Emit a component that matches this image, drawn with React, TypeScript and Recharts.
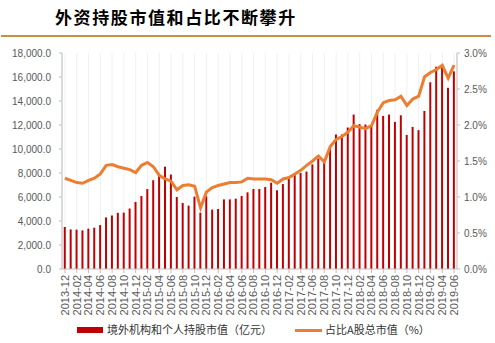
import React from "react";
import { ComposedChart, Bar, Line, XAxis, YAxis, CartesianGrid } from "recharts";

const months = [
  "2013-12",
  "2014-01", "2014-02", "2014-03", "2014-04", "2014-05", "2014-06", "2014-07", "2014-08", "2014-09", "2014-10", "2014-11", "2014-12",
  "2015-01", "2015-02", "2015-03", "2015-04", "2015-05", "2015-06", "2015-07", "2015-08", "2015-09", "2015-10", "2015-11", "2015-12",
  "2016-01", "2016-02", "2016-03", "2016-04", "2016-05", "2016-06", "2016-07", "2016-08", "2016-09", "2016-10", "2016-11", "2016-12",
  "2017-01", "2017-02", "2017-03", "2017-04", "2017-05", "2017-06", "2017-07", "2017-08", "2017-09", "2017-10", "2017-11", "2017-12",
  "2018-01", "2018-02", "2018-03", "2018-04", "2018-05", "2018-06", "2018-07", "2018-08", "2018-09", "2018-10", "2018-11", "2018-12",
  "2019-01", "2019-02", "2019-03", "2019-04", "2019-05", "2019-06",
];

// 境外机构和个人持股市值（亿元）
const holdingValue = [
  3500, 3300, 3280, 3220, 3360, 3440, 3660, 4300, 4460, 4680, 4700, 5040, 5590,
  6080, 6660, 7400, 7790, 8530, 7870, 6000, 5500, 5280, 6030, 4690, 6060,
  4950, 5000, 5800, 5800, 5860, 6080, 6390, 6670, 6670, 6830, 7190, 6560,
  7080, 7525, 7830, 8000, 8120, 8720, 9200, 8850, 10220, 11210, 11210, 11790,
  12870, 12070, 12040, 11980, 13270, 12750, 12870, 12260, 12810, 11170, 11840, 11570,
  13170, 15560, 16860, 17000, 15100, 16470,
];

// 占比A股总市值（%）
const shareOfMarket = [
  1.26, 1.23, 1.2, 1.19, 1.23, 1.26, 1.32, 1.44, 1.45, 1.42, 1.4, 1.38, 1.34,
  1.44, 1.48, 1.42, 1.3, 1.25, 1.22, 1.1, 1.16, 1.17, 1.15, 0.85, 1.07,
  1.13, 1.16, 1.18, 1.2, 1.2, 1.21, 1.26, 1.25, 1.25, 1.25, 1.24, 1.19,
  1.25, 1.27, 1.32, 1.37, 1.44, 1.5, 1.57, 1.49, 1.7, 1.8, 1.84, 1.9,
  1.99, 1.97, 1.95, 1.99, 2.18, 2.31, 2.34, 2.35, 2.4, 2.27, 2.36, 2.4,
  2.67, 2.73, 2.77, 2.83, 2.65, 2.83,
];

const leftTicks = [0, 2000, 4000, 6000, 8000, 10000, 12000, 14000, 16000, 18000];
const rightTicks = [0, 0.5, 1, 1.5, 2, 2.5, 3];

const data = months.map((m, i) => ({ month: m, value: holdingValue[i], share: shareOfMarket[i] }));

const axisFont = "'Liberation Sans', Arial, sans-serif";
const cjkFont = "'Noto Sans CJK SC', sans-serif";

function MonthTick({ x, y, payload }: any) {
  return (
    <g transform={`translate(${x},${y}) rotate(-90)`}>
      <text x={0} y={0} dy="0.35em" textAnchor="end" fontSize={11} fill="#595959" fontFamily={axisFont}>
        {payload.value}
      </text>
    </g>
  );
}

export default function App() {
  return (
    <div style={{ position: "absolute", left: 0, top: 0, width: 495, height: 343, background: "#fff" }}>
      <div
        style={{
          position: "absolute",
          left: 55,
          top: 4,
          fontFamily: cjkFont,
          fontWeight: 700,
          fontSize: 17,
          letterSpacing: 1.6,
          color: "#000",
          whiteSpace: "nowrap",
        }}
      >
        外资持股市值和占比不断攀升
      </div>
      <div style={{ position: "absolute", left: 1, top: 35, width: 490, height: 2, background: "#C8913F" }} />

      <ComposedChart
        width={495}
        height={343}
        data={data}
        margin={{ top: 53, right: 0, bottom: 24, left: 0 }}
        barCategoryGap="30%"
      >
        <CartesianGrid vertical horizontal={false} stroke="#f0f0f0" />
        <XAxis
          dataKey="month"
          interval={1}
          height={50}
          tick={<MonthTick />}
          tickSize={4}
          tickMargin={2}
          stroke="#bfbfbf"
        />
        <YAxis
          yAxisId="left"
          domain={[0, 18000]}
          ticks={leftTicks}
          width={62}
          tickSize={3}
          tickMargin={8}
          stroke="#bfbfbf"
          tick={{ fill: "#595959", fontSize: 10, fontFamily: axisFont }}
          tickFormatter={(v) => v.toLocaleString("en-US", { minimumFractionDigits: 1, maximumFractionDigits: 1 })}
        />
        <YAxis
          yAxisId="right"
          orientation="right"
          domain={[0, 3]}
          ticks={rightTicks}
          width={38}
          tickSize={3}
          tickMargin={4}
          stroke="#bfbfbf"
          tick={{ fill: "#595959", fontSize: 10, fontFamily: axisFont }}
          tickFormatter={(v) => `${v.toFixed(1)}%`}
        />
        <Bar yAxisId="left" dataKey="value" fill="#C00000" isAnimationActive={false} />
        <Line
          yAxisId="right"
          type="linear"
          dataKey="share"
          stroke="#ED7D31"
          strokeWidth={3}
          dot={false}
          isAnimationActive={false}
        />
      </ComposedChart>

      <div style={{ position: "absolute", left: 77, top: 327, width: 26, height: 6, background: "#C00000" }} />
      <div
        style={{
          position: "absolute",
          left: 107,
          top: 321,
          fontFamily: cjkFont,
          fontSize: 11,
          color: "#333",
          whiteSpace: "nowrap",
        }}
      >
        境外机构和个人持股市值（亿元）
      </div>
      <div style={{ position: "absolute", left: 295, top: 329, width: 27, height: 3, background: "#ED7D31" }} />
      <div
        style={{
          position: "absolute",
          left: 325,
          top: 321,
          fontFamily: cjkFont,
          fontSize: 11,
          color: "#333",
          whiteSpace: "nowrap",
        }}
      >
        占比A股总市值（%）
      </div>
    </div>
  );
}
